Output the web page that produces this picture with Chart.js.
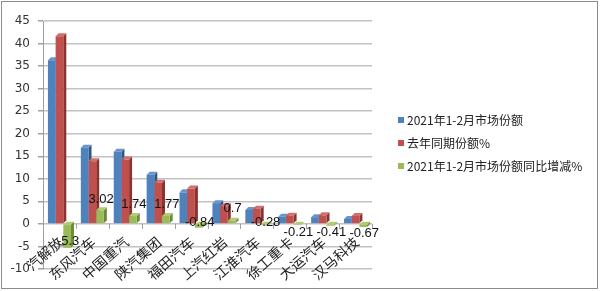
<!DOCTYPE html>
<html>
<head>
<meta charset="utf-8">
<script src="https://cdn.jsdelivr.net/npm/chart.js@4/dist/chart.umd.min.js"></script>
<style>
  html, body { margin: 0; padding: 0; background: #ffffff; }
  canvas { display: block; }
</style>
</head>
<body>
<canvas id="c" width="600" height="291"></canvas>
<script>
// Heavy-truck makers, Jan–Feb 2021 market share (%)
const categories = ['汽解放', '东风汽车', '中国重汽', '陕汽集团', '福田汽车', '上汽红岩', '江淮汽车', '徐工重卡', '大运汽车', '汉马科技'];
const seriesNames = ['2021年1-2月市场份额', '去年同期份额%', '2021年1-2月市场份额同比增减%'];
const share2021 = [36.3, 16.9, 16.0, 10.9, 7.0, 4.6, 3.1, 1.6, 1.5, 1.1];
const sharePrev = [41.6, 13.9, 14.26, 9.13, 7.84, 3.9, 3.38, 1.81, 1.91, 1.77];
const shareChange = [-5.3, 3.02, 1.74, 1.77, -0.84, 0.7, -0.28, -0.21, -0.41, -0.67];
const yTicks = { min: -10, max: 45, step: 5 };

// vertical nudge (px) of each change label from the end of its bar
const labelNudge = [-6, -11, -12, -12, -5, -12, -3, 8, 7, 6];

const faceColors = ['#4F81BD', '#C0504D', '#9BBB59'];
const sideColors = ['#2f5582', '#8a3330', '#6d8a36'];
const topColors  = ['#6a95cc', '#d06f6c', '#b0cd72'];
const DEPTH = 3;

// side and top faces give the bars a shallow 3D look
const bar3d = {
  id: 'bar3d',
  beforeDatasetsDraw(chart) {
    const ctx = chart.ctx;
    ctx.save();
    chart.data.datasets.forEach((ds, di) => {
      chart.getDatasetMeta(di).data.forEach(el => {
        const w = el.width;
        const l = el.x - w / 2, r = el.x + w / 2;
        const top = Math.min(el.y, el.base), bot = Math.max(el.y, el.base);
        ctx.fillStyle = sideColors[di];
        ctx.beginPath();
        ctx.moveTo(r, top); ctx.lineTo(r + DEPTH, top - DEPTH);
        ctx.lineTo(r + DEPTH, bot - DEPTH); ctx.lineTo(r, bot);
        ctx.closePath(); ctx.fill();
        ctx.fillStyle = topColors[di];
        ctx.beginPath();
        ctx.moveTo(l, top); ctx.lineTo(l + DEPTH, top - DEPTH);
        ctx.lineTo(r + DEPTH, top - DEPTH); ctx.lineTo(r, top);
        ctx.closePath(); ctx.fill();
      });
    });
    // category tick marks along the zero line
    const ys = chart.scales.y;
    const y0 = ys.getPixelForValue(0);
    const step = (chart.chartArea.right - chart.chartArea.left) / categories.length;
    ctx.strokeStyle = '#a0a0a0';
    ctx.lineWidth = 1;
    for (let k = 0; k <= categories.length; k++) {
      const x = Math.round(chart.chartArea.left + k * step) + 0.5;
      ctx.beginPath(); ctx.moveTo(x, y0); ctx.lineTo(x, y0 + 5); ctx.stroke();
    }
    ctx.restore();
  },
  afterDatasetsDraw(chart) {
    const ctx = chart.ctx;
    const xs = chart.scales.x, ys = chart.scales.y;
    const y0 = ys.getPixelForValue(0);
    ctx.save();
    // value labels for the change series
    ctx.font = '13px "Liberation Sans", Arial, sans-serif';
    ctx.fillStyle = '#111';
    ctx.textAlign = 'center';
    ctx.textBaseline = 'middle';
    chart.getDatasetMeta(2).data.forEach((el, i) => {
      ctx.fillText(String(shareChange[i]), el.x + 1, el.y + labelNudge[i]);
    });
    // slanted category names
    ctx.font = '14px "Noto Sans CJK SC", sans-serif';
    ctx.fillStyle = '#222';
    ctx.textAlign = 'right';
    categories.forEach((name, i) => {
      const cx = xs.getPixelForValue(i);
      ctx.save();
      ctx.translate(cx + 1, y0 + 16);
      ctx.rotate(-41 * Math.PI / 180);
      ctx.fillText(name, 0, 0);
      ctx.restore();
    });
    ctx.restore();
  },
  afterDraw(chart) {
    const ctx = chart.ctx;
    ctx.save();
    // legend
    ctx.font = '12px "Noto Sans CJK SC", sans-serif';
    ctx.textAlign = 'left';
    ctx.textBaseline = 'middle';
    seriesNames.forEach((name, i) => {
      const y = 120 + i * 23;
      ctx.fillStyle = faceColors[i];
      ctx.fillRect(398, y - 3, 6, 6);
      ctx.fillStyle = '#222';
      ctx.fillText(name, 407, y);
    });
    // outer frame
    ctx.strokeStyle = '#8c8c8c';
    ctx.lineWidth = 1;
    ctx.strokeRect(1.5, 1.5, 596, 287);
    ctx.restore();
  }
};

new Chart(document.getElementById('c'), {
  type: 'bar',
  data: {
    labels: categories,
    datasets: [
      { label: seriesNames[0], data: share2021, backgroundColor: faceColors[0] },
      { label: seriesNames[1], data: sharePrev, backgroundColor: faceColors[1] },
      { label: seriesNames[2], data: shareChange, backgroundColor: faceColors[2] }
    ]
  },
  options: {
    responsive: false,
    animation: false,
    layout: { padding: { left: 0, right: 228, top: 21, bottom: 22 } },
    datasets: { bar: { categoryPercentage: 0.7, barPercentage: 1 } },
    plugins: { legend: { display: false }, tooltip: { enabled: false } },
    scales: {
      x: { display: false },
      y: {
        min: yTicks.min,
        max: yTicks.max,
        ticks: {
          stepSize: yTicks.step,
          font: { family: '"DejaVu Sans", sans-serif', size: 12 },
          color: '#333',
          padding: 8
        },
        grid: { color: '#c2c2c2', lineWidth: 1.5, tickLength: 5, tickColor: '#a0a0a0' },
        border: { color: '#a0a0a0' },
        afterFit(scale) { scale.width = 43; }
      }
    }
  },
  plugins: [bar3d]
});
</script>
</body>
</html>
